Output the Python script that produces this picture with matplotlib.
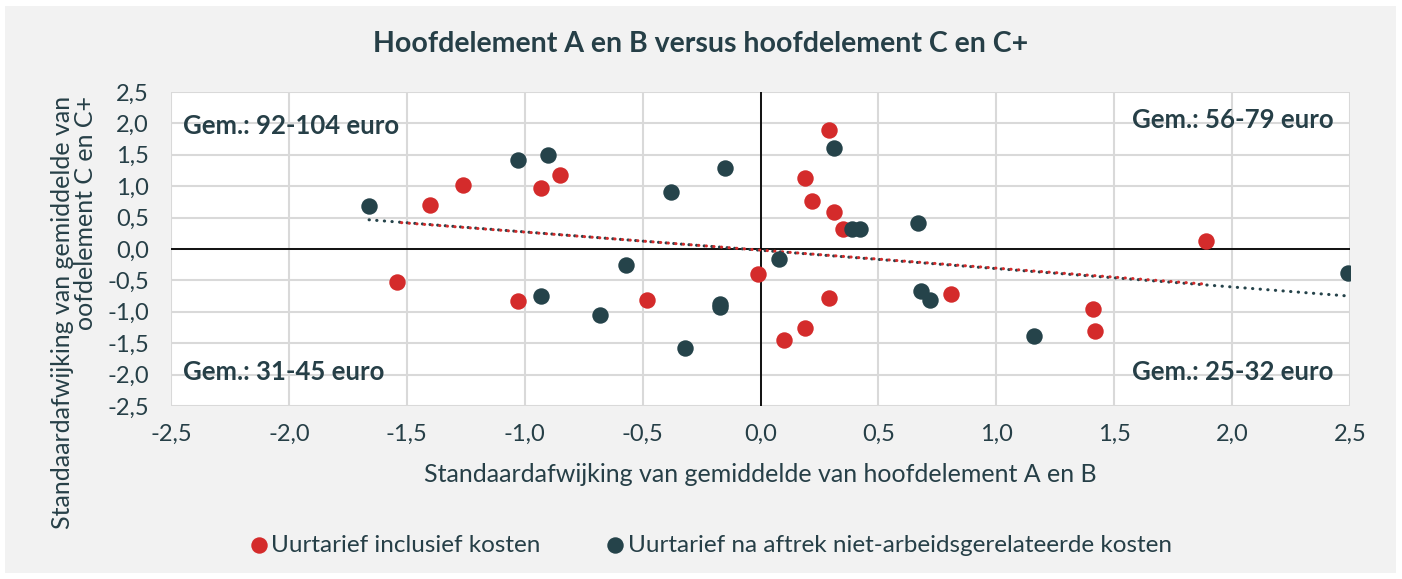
import numpy as np
import matplotlib.pyplot as plt
from matplotlib.patches import Rectangle

plt.rcParams['font.family'] = ['Lato', 'DejaVu Sans']

# Uurtarief inclusief kosten
rood_x = [-1.40, -1.26, -0.93, -0.85, -1.54, -1.03, -0.48, -0.01, 0.10, 0.19,
          0.29, 0.19, 0.22, 0.31, 0.35, 0.29, 0.81, 1.41, 1.42, 1.89]
rood_y = [0.70, 1.02, 0.97, 1.18, -0.53, -0.83, -0.81, -0.40, -1.45, -1.26,
          -0.78, 1.13, 0.77, 0.59, 0.32, 1.90, -0.72, -0.96, -1.31, 0.13]

# Uurtarief na aftrek niet-arbeidsgerelateerde kosten
donker_x = [-1.66, -1.03, -0.90, -0.38, -0.15, 0.31, 0.39, 0.42, 0.67, 0.08,
            -0.57, -0.93, -0.68, -0.32, -0.17, -0.17, 0.68, 0.72, 1.16, 2.49]
donker_y = [0.69, 1.41, 1.49, 0.91, 1.29, 1.61, 0.32, 0.32, 0.42, -0.16,
            -0.26, -0.75, -1.05, -1.57, -0.88, -0.93, -0.67, -0.81, -1.39, -0.38]

ticks = [-2.5, -2.0, -1.5, -1.0, -0.5, 0.0, 0.5, 1.0, 1.5, 2.0, 2.5]
tick_labels = [f"{t:.1f}".replace('.', ',') for t in ticks]

rood = '#d42b2b'
donker = '#25434a'
tekst = '#263f47'

fig = plt.figure(figsize=(14.02, 5.79), dpi=100)
fig.patch.set_facecolor('white')
fig.patches.append(Rectangle((5 / 1402, 6 / 579), 1391 / 1402, 567 / 579,
                             transform=fig.transFigure, facecolor='#f2f2f2',
                             edgecolor='none', zorder=-10))

ax = fig.add_axes([171 / 1402, 1 - 406 / 579, 1179 / 1402, 314 / 579])
ax.set_facecolor('white')
ax.set_xlim(-2.5, 2.5)
ax.set_ylim(-2.5, 2.5)
ax.set_xticks(ticks)
ax.set_yticks(ticks)
ax.set_xticklabels(tick_labels)
ax.set_yticklabels(tick_labels)
ax.tick_params(length=0, labelsize=17, labelcolor=tekst)
ax.tick_params(axis='x', pad=13)
ax.tick_params(axis='y', pad=16)
ax.grid(True, color='#d9d9d9', linewidth=1.5)
ax.set_axisbelow(True)
for s in ax.spines.values():
    s.set_visible(False)
ax.axhline(0, color='black', linewidth=1.3, zorder=1)
ax.axvline(0, color='black', linewidth=1.3, zorder=1)

ax.scatter(rood_x, rood_y, s=140, color=rood, zorder=3, linewidths=0,
           label='Uurtarief inclusief kosten')
ax.scatter(donker_x, donker_y, s=140, color=donker, zorder=3, linewidths=0,
           label='Uurtarief na aftrek niet-arbeidsgerelateerde kosten')

# trendlijnen
for xs, ys, c, off in [(donker_x, donker_y, donker, 0), (rood_x, rood_y, rood, 1.15)]:
    a, b = np.polyfit(xs, ys, 1)
    lx = np.array([min(xs), max(xs)])
    ax.plot(lx, a * lx + b, color=c, linewidth=2.2, linestyle=(off, (0.1, 2.4)),
            dash_capstyle='round', solid_capstyle='round', zorder=2)

kw = dict(transform=ax.transAxes, fontsize=18.5, fontweight='bold', color=tekst)
ax.text(0.010, 0.892, 'Gem.: 92-104 euro', ha='left', va='center', **kw)
ax.text(0.986, 0.911, 'Gem.: 56-79 euro', ha='right', va='center', **kw)
ax.text(0.010, 0.108, 'Gem.: 31-45 euro', ha='left', va='center', **kw)
ax.text(0.986, 0.108, 'Gem.: 25-32 euro', ha='right', va='center', **kw)

fig.text(0.5, 1 - 44 / 579, 'Hoofdelement A en B versus hoofdelement C en C+',
         ha='center', va='center', fontsize=20.5, fontweight='bold', color=tekst)
fig.text(760 / 1402, 1 - 474 / 579,
         'Standaardafwijking van gemiddelde van hoofdelement A en B',
         ha='center', va='center', fontsize=18, color=tekst)
fig.text(74 / 1402, 1 - 96 / 579,
         'Standaardafwijking van gemiddelde van\noofdelement C en C+',
         rotation=90, ha='center', va='top', multialignment='right',
         fontsize=18, color=tekst, linespacing=1.05)

fig.legend(loc='center', bbox_to_anchor=(709 / 1402, 1 - 545 / 579), ncol=2,
           frameon=False, fontsize=17.5, labelcolor=tekst, handletextpad=0.0,
           columnspacing=2.6, markerscale=1.0, handlelength=1.0)

fig.savefig('out.png', dpi=100)
